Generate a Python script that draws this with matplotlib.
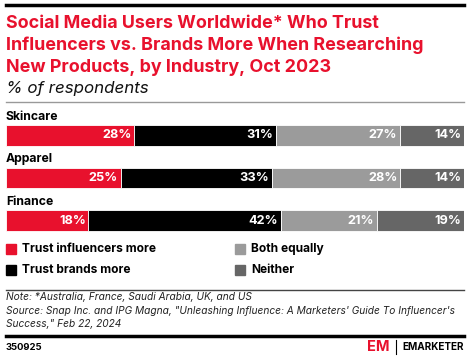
import matplotlib
matplotlib.use("Agg")
import matplotlib.pyplot as plt
from matplotlib.lines import Line2D
from matplotlib.patches import Rectangle

industries = ["Skincare", "Apparel", "Finance"]
series_names = ["Trust influencers more", "Trust brands more", "Both equally", "Neither"]
influencers = [28, 25, 18]
brands = [31, 33, 42]
equally = [27, 28, 21]
neither = [14, 14, 19]
colors = ["#e8112d", "#000000", "#9b9b9b", "#666666"]

W, H = 470, 359
fig = plt.figure(figsize=(W / 100, H / 100), dpi=100)
plt.rcParams["font.family"] = ["Inter", "DejaVu Sans"]


def fx(x):
    return x / W


def fy(y):
    return 1 - y / H


def hline(y, x0=6, x1=464, lw=1.0, color="black"):
    fig.add_artist(Line2D([fx(x0), fx(x1)], [fy(y), fy(y)], lw=lw, color=color,
                          transform=fig.transFigure))


# header
hline(5, lw=2.5)
title = ["Social Media Users Worldwide* Who Trust",
         "Influencers vs. Brands More When Researching",
         "New Products, by Industry, Oct 2023"]
for i, line in enumerate(title):
    fig.text(fx(6), fy(23 + i * 22), line, color="#e8112d", fontsize=12.9,
             fontweight="bold", va="center", ha="left")
fig.text(fx(6), fy(88), "% of respondents", fontsize=12.2, style="italic",
         va="center", ha="left", color="#111111")
hline(102, lw=1.0, color="#999999")

# bars
ax = fig.add_axes([fx(6), fy(241.75), fx(458), 136 / H])
ax.set_xlim(0, 100)
ax.set_ylim(2.5, -0.7)
ax.axis("off")
data = [influencers, brands, equally, neither]
for i, name in enumerate(industries):
    left = 0
    for vals, c in zip(data, colors):
        v = vals[i]
        ax.barh(i, v, left=left, height=0.494, color=c, edgecolor="white", linewidth=0.6)
        ax.text(left + v - 0.6, i, f"{v}%", color="white", fontsize=9.2,
                fontweight="bold", ha="right", va="center")
        left += v
    ax.text(0, i - 0.44, name, fontsize=8.8, fontweight="bold", ha="left", va="center")

# legend
legend_pos = [(6, 249), (6, 270), (235, 249), (235, 270)]
for (x, y), name, c in zip(legend_pos, series_names, colors):
    fig.add_artist(Rectangle((fx(x), fy(y + 5)), fx(10), 10 / H, color=c,
                             transform=fig.transFigure))
    fig.text(fx(x + 16), fy(y), name, fontsize=8.6, fontweight="bold",
             va="center", ha="left")

hline(290, lw=1.0, color="#444444")

notes = ["Note: *Australia, France, Saudi Arabia, UK, and US",
         "Source: Snap Inc. and IPG Magna, \"Unleashing Influence: A Marketers' Guide To Influencer's",
         "Success,\" Feb 22, 2024"]
for i, line in enumerate(notes):
    fig.text(fx(6), fy(297 + i * 13.5), line, fontsize=7.3, style="italic",
             va="center", ha="left", color="#222222")

hline(336, lw=2.5)
fig.text(fx(6), fy(347), "350925", fontsize=6.8, fontweight="bold", va="center", ha="left")
fig.text(fx(390), fy(347), "EM", fontsize=10.5, fontweight="bold", color="#e8112d",
         va="center", ha="right")
fig.add_artist(Line2D([fx(396), fx(396)], [fy(340), fy(354)], lw=0.8, color="black",
                      transform=fig.transFigure))
fig.text(fx(464), fy(347), "EMARKETER", fontsize=7.2, fontweight="bold",
         va="center", ha="right")

fig.savefig("out.png", dpi=100)
